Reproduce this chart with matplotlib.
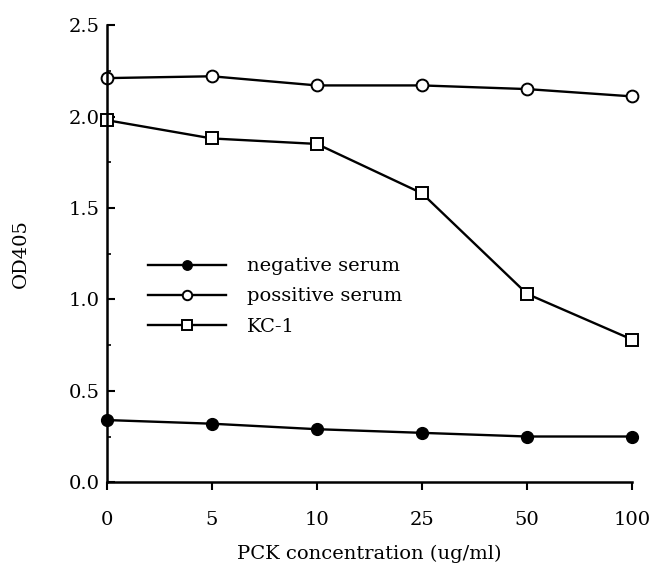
import numpy as np
import matplotlib
matplotlib.use('Agg')
import matplotlib.pyplot as plt
from matplotlib.ticker import MultipleLocator

plt.rcParams['font.family'] = ['DejaVu Serif']

# data
conc_labels = ['0', '5', '10', '25', '50', '100']
negative = [0.34, 0.32, 0.29, 0.27, 0.25, 0.25]
positive = [2.21, 2.22, 2.17, 2.17, 2.15, 2.11]
kc1 = [1.98, 1.88, 1.85, 1.58, 1.03, 0.78]

x = np.arange(len(conc_labels))

fig = plt.figure(figsize=(6.51, 5.70), dpi=100)
ax = fig.add_axes([0.164, 0.154, 0.807, 0.802])

ax.plot(x, negative, '-o', color='black', lw=1.7, ms=8.5,
        mfc='black', label='negative serum')
ax.plot(x, positive, '-o', color='black', lw=1.7, ms=8.5,
        mfc='white', mew=1.4, label='possitive serum')
ax.plot(x, kc1, '-s', color='black', lw=1.7, ms=8.5,
        mfc='white', mew=1.4, label='KC-1')

ax.set_xlim(0, 5)
ax.set_ylim(0, 2.5)
ax.set_xticks(x)
ax.set_xticklabels(conc_labels)
ax.yaxis.set_major_locator(MultipleLocator(0.5))
ax.yaxis.set_minor_locator(MultipleLocator(0.25))
ax.yaxis.set_major_formatter(plt.FormatStrFormatter('%.1f'))

for s in ['top', 'right']:
    ax.spines[s].set_visible(False)
for s in ['left', 'bottom']:
    ax.spines[s].set_linewidth(1.8)

ax.tick_params(axis='y', direction='in', length=6, width=1.5, labelsize=14, pad=5)
ax.tick_params(axis='y', which='minor', direction='in', length=3, width=1.2)
ax.tick_params(axis='x', direction='out', length=6, width=1.5, labelsize=14, pad=15)

for line in ax.lines:
    line.set_clip_on(False)

ax.set_xlabel('PCK concentration (ug/ml)', fontsize=14, labelpad=11)
ax.set_ylabel('OD405', fontsize=14, labelpad=28)

ax.legend(loc='upper left', bbox_to_anchor=(0.045, 0.53), frameon=False,
          fontsize=14, handlelength=4.0, handletextpad=1.1, labelspacing=0.62,
          markerscale=0.8)

plt.savefig('out.png', dpi=100)
